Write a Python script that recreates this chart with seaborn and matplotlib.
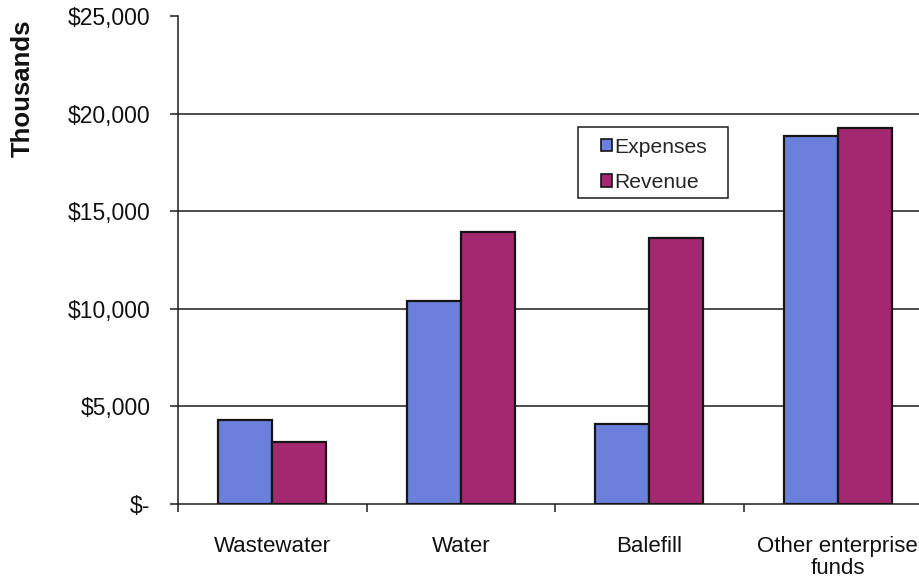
import matplotlib
matplotlib.use("Agg")
import matplotlib.pyplot as plt
import matplotlib.patches as mpatches
from matplotlib.ticker import FixedLocator, FuncFormatter
import pandas as pd
import seaborn as sns

# Fund categories and amounts (in thousands of dollars)
categories = ["Wastewater", "Water", "Balefill", "Other enterprise\nfunds"]
expenses = [4310, 10400, 4100, 18850]
revenue = [3190, 13950, 13650, 19250]
series_names = ["Expenses", "Revenue"]
y_ticks = [0, 5000, 10000, 15000, 20000, 25000]

df = pd.DataFrame({
    "fund": categories * 2,
    "amount": expenses + revenue,
    "series": [series_names[0]] * len(categories) + [series_names[1]] * len(categories),
})

sns.set_theme(style="white")
plt.rcParams["font.family"] = ["Liberation Sans", "DejaVu Sans"]

W, H = 920, 579
fig = plt.figure(figsize=(W / 100, H / 100), dpi=100)
ax = fig.add_axes([178 / W, 1 - 504 / H, (932 - 178) / W, (504 - 16) / H])

palette = {"Expenses": "#6b80da", "Revenue": "#a3286f"}
sns.barplot(data=df, x="fund", y="amount", hue="series", order=categories,
            hue_order=series_names, palette=palette, width=0.575, gap=0,
            edgecolor="#151515", linewidth=1.6, saturation=1, ax=ax,
            legend=False, zorder=3)

ax.set_xlim(-0.5, len(categories) - 0.5)
ax.set_ylim(0, 25000)

# Horizontal gridlines (none at the top value)
for v in y_ticks[1:-1]:
    ax.axhline(v, color="#1c1c1c", lw=1.1, zorder=1)

for s in ["top", "right"]:
    ax.spines[s].set_visible(False)
ax.spines["left"].set_color("#1c1c1c")
ax.spines["left"].set_linewidth(1.1)
ax.spines["bottom"].set_color("#1c1c1c")
ax.spines["bottom"].set_linewidth(1.1)

def money(v, pos):
    return "$-" if v == 0 else f"${v:,.0f}"

ax.yaxis.set_major_locator(FixedLocator(y_ticks))
ax.yaxis.set_major_formatter(FuncFormatter(money))
ax.tick_params(axis="y", direction="out", length=6, width=1.1, color="#1c1c1c",
               pad=14, labelsize=16.5, labelcolor="#111111", left=True)

ax.set_xticks(range(len(categories)))
ax.set_xticklabels(categories, fontsize=16.0, color="#111111", linespacing=1.05)
ax.tick_params(axis="x", which="major", length=0, pad=23)
ax.set_xticks([i - 0.5 for i in range(len(categories) + 1)], minor=True)
ax.tick_params(axis="x", which="minor", direction="out", length=6, width=1.1,
               color="#1c1c1c", bottom=True)

ax.set_xlabel("")
ax.set_ylabel("")
fig.text(23 / W, 1 - 88 / H, "Thousands", rotation=90, ha="center", va="center",
         fontsize=18.5, fontweight="bold", color="#111111")

# Legend with square swatches inside a plain rectangular frame
handles = [mpatches.Patch(facecolor=palette[n], edgecolor="#151515", linewidth=1.2)
           for n in series_names]
leg = fig.legend(handles, series_names, loc="upper left",
                 bbox_to_anchor=(590 / W, 1 - 127 / H), frameon=False,
                 fontsize=15.2, handlelength=0.55, handleheight=0.55,
                 handletextpad=0.1, labelspacing=0.78, borderpad=0.0)
fig.add_artist(mpatches.Rectangle((578 / W, 1 - 198 / H), 150 / W, 71 / H,
                                  transform=fig.transFigure, fill=False,
                                  edgecolor="#1c1c1c", lw=1.1))

fig.savefig("out.png", dpi=100)
